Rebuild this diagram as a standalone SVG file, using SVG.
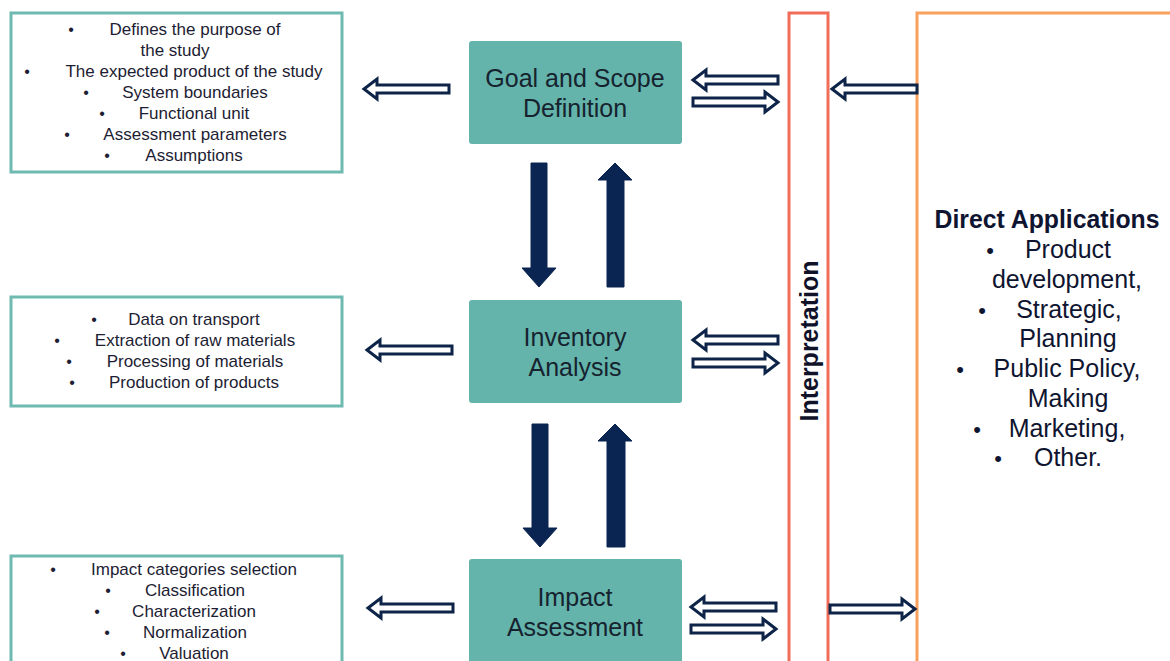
<svg xmlns="http://www.w3.org/2000/svg" width="1170" height="661" viewBox="0 0 1170 661">
<style>
.lbox{fill:#fff;stroke:#6fbab0;stroke-width:3}
.tbox{fill:#64b4ab}
.lt{font-family:"Liberation Sans",Arial,sans-serif;font-size:17px;fill:#1d1d33;text-anchor:middle}
.bul{font-family:"Liberation Sans",Arial,sans-serif;font-size:16px;fill:#1d1d33;text-anchor:middle}
.tt{font-family:"Liberation Sans",Arial,sans-serif;font-size:25px;fill:#16232f;text-anchor:middle}
.dt{font-family:"Liberation Sans",Arial,sans-serif;font-size:25px;fill:#0f1530;text-anchor:middle}
.db{font-family:"Liberation Sans",Arial,sans-serif;font-size:22px;fill:#0f1530;text-anchor:middle}
.hol{fill:#fff;stroke:#0d2448;stroke-width:3;stroke-linejoin:miter}
.sol{fill:#0b2552;stroke:#0b2552;stroke-width:1}
</style>
<defs>
<path id="ha" d="M0,0 L13,-10 L13,-4 L85,-4 L85,4 L13,4 L13,10 Z"/>
</defs>
<rect width="1170" height="661" fill="#fff"/>

<g id="goal-details">
<rect class="lbox" x="11" y="13" width="331" height="159"/>
<text class="bul" x="71" y="35">•</text><text class="lt" x="195" y="35">Defines the purpose of</text>
<text class="lt" x="175" y="56">the study</text>
<text class="bul" x="27" y="77">•</text><text class="lt" x="194" y="77">The expected product of the study</text>
<text class="bul" x="86" y="98">•</text><text class="lt" x="195" y="98">System boundaries</text>
<text class="bul" x="102" y="119">•</text><text class="lt" x="194" y="119">Functional unit</text>
<text class="bul" x="67" y="140">•</text><text class="lt" x="195" y="140">Assessment parameters</text>
<text class="bul" x="107" y="161">•</text><text class="lt" x="194" y="161">Assumptions</text>
</g>

<g id="inventory-details">
<rect class="lbox" x="11" y="297" width="331" height="109"/>
<text class="bul" x="94" y="325">•</text><text class="lt" x="194" y="325">Data on transport</text>
<text class="bul" x="57" y="346">•</text><text class="lt" x="195" y="346">Extraction of raw materials</text>
<text class="bul" x="69" y="367">•</text><text class="lt" x="195" y="367">Processing of materials</text>
<text class="bul" x="72" y="388">•</text><text class="lt" x="194" y="388">Production of products</text>
</g>

<g id="impact-details">
<rect class="lbox" x="11" y="556" width="331" height="120"/>
<text class="bul" x="53" y="575">•</text><text class="lt" x="194" y="575">Impact categories selection</text>
<text class="bul" x="108" y="596">•</text><text class="lt" x="195" y="596">Classification</text>
<text class="bul" x="97" y="617">•</text><text class="lt" x="194" y="617">Characterization</text>
<text class="bul" x="107" y="638">•</text><text class="lt" x="195" y="638">Normalization</text>
<text class="bul" x="123" y="659">•</text><text class="lt" x="194" y="659">Valuation</text>
</g>

<g id="goal">
<rect class="tbox" x="469" y="41" width="213" height="103" rx="3"/>
<text class="tt" x="575" y="87">Goal and Scope</text>
<text class="tt" x="575" y="117">Definition</text>
</g>

<g id="inventory">
<rect class="tbox" x="469" y="300" width="213" height="103" rx="3"/>
<text class="tt" x="575" y="346">Inventory</text>
<text class="tt" x="575" y="376">Analysis</text>
</g>

<g id="impact">
<rect class="tbox" x="469" y="559" width="213" height="110" rx="3"/>
<text class="tt" x="575" y="606">Impact</text>
<text class="tt" x="575" y="636">Assessment</text>
</g>

<g id="interpretation">
<rect x="789" y="13" width="39" height="660" fill="#fff" stroke="#f06d58" stroke-width="3"/>
<text transform="translate(818,341) rotate(-90)" font-family="'Liberation Sans',Arial,sans-serif" font-size="25" font-weight="bold" fill="#0f1228" text-anchor="middle">Interpretation</text>
</g>

<g id="direct-applications">
<rect x="917" y="13" width="270" height="660" fill="#fff" stroke="#f9a05c" stroke-width="3"/>
<text class="dt" x="1047" y="228" font-weight="bold" font-size="23" textLength="225" lengthAdjust="spacingAndGlyphs">Direct Applications</text>
<text class="db" x="990" y="258">•</text><text class="dt" x="1068" y="258">Product</text>
<text class="dt" x="1067" y="288">development,</text>
<text class="db" x="982" y="318">•</text><text class="dt" x="1069" y="318">Strategic,</text>
<text class="dt" x="1068" y="347">Planning</text>
<text class="db" x="960" y="377">•</text><text class="dt" x="1067" y="377">Public Policy,</text>
<text class="dt" x="1068" y="407">Making</text>
<text class="db" x="977" y="437">•</text><text class="dt" x="1067" y="437">Marketing,</text>
<text class="db" x="998" y="466">•</text><text class="dt" x="1068" y="466">Other.</text>
</g>

<g id="connectors">
<use href="#ha" class="hol" transform="translate(364,89)"/>
<use href="#ha" class="hol" transform="translate(367,350)"/>
<use href="#ha" class="hol" transform="translate(368,608)"/>

<use href="#ha" class="hol" transform="translate(693,80)"/>
<use href="#ha" class="hol" transform="translate(778,102) scale(-1,1)"/>
<use href="#ha" class="hol" transform="translate(693,340)"/>
<use href="#ha" class="hol" transform="translate(778,363) scale(-1,1)"/>
<use href="#ha" class="hol" transform="translate(691,607)"/>
<use href="#ha" class="hol" transform="translate(776,629) scale(-1,1)"/>

<use href="#ha" class="hol" transform="translate(832,89)"/>
<use href="#ha" class="hol" transform="translate(915,609) scale(-1,1)"/>

<path class="sol" d="M531,163 L547,163 L547,268 L556,268 L539,287 L522,268 L531,268 Z"/>
<path class="sol" d="M607,287 L624,287 L624,180 L632,180 L615,163 L598,180 L607,180 Z"/>
<path class="sol" d="M532,424 L548,424 L548,528 L557,528 L540,547 L523,528 L532,528 Z"/>
<path class="sol" d="M607,547 L625,547 L625,441 L632,441 L615,424 L598,441 L607,441 Z"/>
</g>
</svg>
